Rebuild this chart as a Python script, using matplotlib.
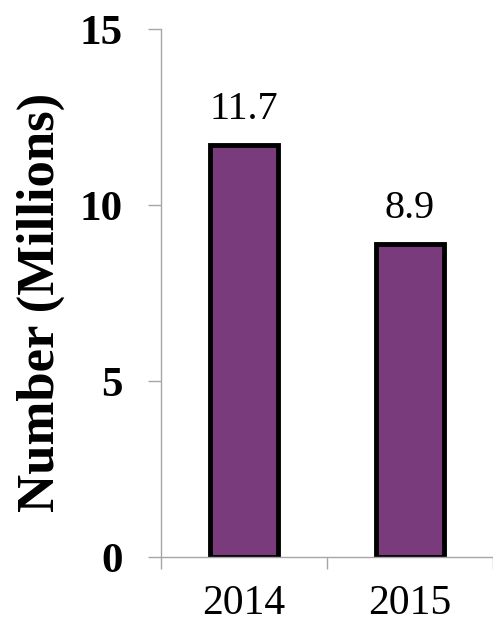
import matplotlib
matplotlib.use("Agg")
import matplotlib.pyplot as plt

# chart data
years = ["2014", "2015"]
values = [11.7, 8.9]
value_labels = ["11.7", "8.9"]
y_ticks = [0, 5, 10, 15]

bar_color = "#7A3B7C"
axis_color = "#A6A6A6"

plt.rcParams["font.family"] = ["Liberation Serif", "DejaVu Serif"]

fig = plt.figure(figsize=(4.93, 6.25), dpi=100)
ax = fig.add_axes([161 / 493, 68 / 625, 332 / 493, 528 / 625])

x = list(range(len(years)))
bars = ax.bar(x, values, width=0.41, color=bar_color, edgecolor="black",
              linewidth=3.5, zorder=2)

# value labels above bars
for xi, v, lab in zip(x, values, value_labels):
    ax.annotate(lab, xy=(xi, v), xytext=(0, 12), textcoords="offset points",
                ha="center", va="bottom", fontsize=29)

ax.set_xlim(-0.5, 1.5)
ax.set_ylim(0, 15)

ax.set_yticks(y_ticks)
ax.set_yticklabels([str(t) for t in y_ticks], fontsize=31, fontweight="bold")
ax.tick_params(axis="y", direction="out", length=9.5, width=1,
               color=axis_color, pad=18)

ax.set_xticks(x)
ax.set_xticklabels(years, fontsize=30)
ax.set_xticks([-0.5, 0.5, 1.5], minor=True)
ax.tick_params(axis="x", which="major", length=0, pad=20)
ax.tick_params(axis="x", which="minor", direction="out", length=8.6,
               width=1, color=axis_color)

for side in ["top", "right"]:
    ax.spines[side].set_visible(False)
for side in ["left", "bottom"]:
    ax.spines[side].set_color(axis_color)
    ax.spines[side].set_linewidth(1)
ax.spines["bottom"].set_zorder(3)

ax.set_ylabel("Number (Millions)", fontsize=38, fontweight="bold")
ax.yaxis.set_label_coords(-0.29, 0.483)

fig.savefig("out.png", dpi=100)
